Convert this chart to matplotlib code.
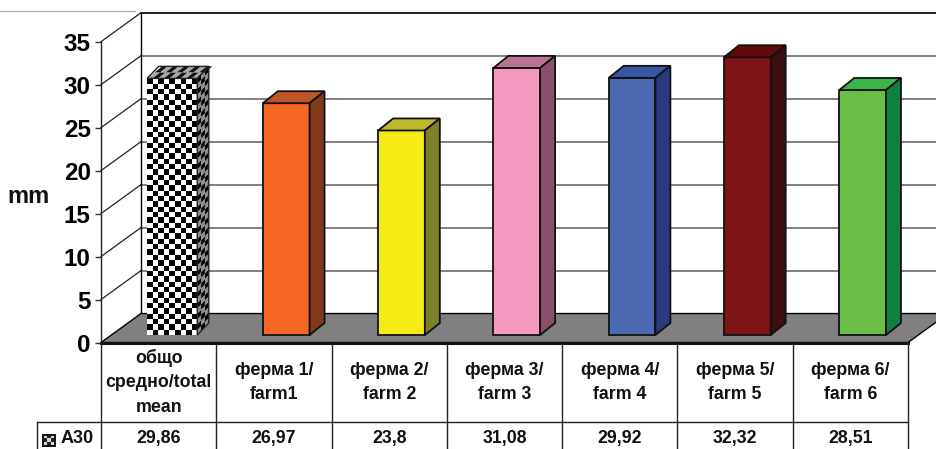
import matplotlib
matplotlib.use("Agg")
import matplotlib.pyplot as plt
from matplotlib.collections import PolyCollection
from matplotlib.patches import Polygon, Rectangle

plt.rcParams["font.family"] = ["Liberation Sans", "DejaVu Sans"]
plt.rcParams["font.weight"] = "bold"

CATEGORIES = [
    "общо\nсредно/total\nmean",
    "ферма 1/\nfarm1",
    "ферма 2/\nfarm 2",
    "ферма 3/\nfarm 3",
    "ферма 4/\nfarm 4",
    "ферма 5/\nfarm 5",
    "ферма 6/\nfarm 6",
]
VALUES = [29.86, 26.97, 23.8, 31.08, 29.92, 32.32, 28.51]
VALUE_LABELS = ["29,86", "26,97", "23,8", "31,08", "29,92", "32,32", "28,51"]
Y_TICKS = [0, 5, 10, 15, 20, 25, 30, 35]
SERIES_NAME = "A30"

# front, top and side shade of each solid bar
FACE_COLORS = [
    None,
    ("#f56722", "#c0542a", "#81391c"),
    ("#f5ec15", "#bdb82e", "#80802b"),
    ("#f49ac1", "#bb7394", "#8b4f6b"),
    ("#4b69b0", "#3a55a4", "#2b3a80"),
    ("#7e1416", "#600a0c", "#3b0f10"),
    ("#6abd45", "#39b54a", "#0f8040"),
]

# depth of the 3d box and of each bar, in x categories and y mm
DEPTH_X, DEPTH_Y = 0.347, 3.37
BAR_DX, BAR_DY = 0.13, 1.4
BAR_LEFT, BAR_WIDTH, BAR_BASE = 0.404, 0.405, 0.87
HEADER_BOTTOM, TABLE_BOTTOM = -9.25, -12.4
X_MAX = 7.3


def checker(ax, origin, u, v, nu, nv, dark, light):
    """Fill the parallelogram origin+u+v with an nu by nv checker pattern"""
    cells, colors = [], []
    for i in range(nu):
        for j in range(nv):
            p = [(i, j), (i + 1, j), (i + 1, j + 1), (i, j + 1)]
            cells.append(
                [
                    (
                        origin[0] + a / nu * u[0] + b / nv * v[0],
                        origin[1] + a / nu * u[1] + b / nv * v[1],
                    )
                    for a, b in p
                ]
            )
            colors.append(dark if (i + j) % 2 else light)
    ax.add_collection(
        PolyCollection(cells, facecolors=colors, edgecolors="none", zorder=4, clip_on=False)
    )


def draw_box(ax):
    # back wall and gridlines
    for y in Y_TICKS:
        color, lw = ("black", 1.2) if y == 35 else ("#808080", 1.4)
        if y > 0:
            ax.plot([DEPTH_X, X_MAX], [y + DEPTH_Y] * 2, color=color, lw=lw, zorder=1, clip_on=False)
            ax.plot([0, DEPTH_X], [y, y + DEPTH_Y], color="#222222", lw=0.9, zorder=1, clip_on=False)
    ax.plot([DEPTH_X, DEPTH_X], [DEPTH_Y, 35 + DEPTH_Y], color="black", lw=1.0, zorder=1, clip_on=False)

    # floor
    floor = [(0, 0), (7, 0), (7 + DEPTH_X, DEPTH_Y), (DEPTH_X, DEPTH_Y)]
    ax.add_patch(Polygon(floor, facecolor="#808080", edgecolor="black", lw=1.0, zorder=2, clip_on=False))
    ax.plot([0, 7], [0, 0], color="#111111", lw=2.2, zorder=3, clip_on=False)


def draw_bar(ax, i, value, colors):
    x0 = i + BAR_LEFT
    y0 = BAR_BASE
    top = y0 + value
    if colors is None:
        # the overall mean gets a checker fill and a wider front
        x0 -= 0.004
        w = BAR_WIDTH + 0.03
        checker(ax, (x0, y0), (w, 0), (0, value), 9, 48, "black", "white")
        checker(ax, (x0 + w, y0), (BAR_DX - 0.03, BAR_DY), (0, value), 3, 48, "black", "#8c8c8c")
        checker(ax, (x0, top), (w, 0), (BAR_DX, BAR_DY), 9, 2, "#111111", "#a8a8a8")
    else:
        w = BAR_WIDTH
    dx = BAR_DX if colors else BAR_DX - 0.03
    front = [(x0, y0), (x0 + w, y0), (x0 + w, top), (x0, top)]
    side = [(x0 + w, y0), (x0 + w + dx, y0 + BAR_DY), (x0 + w + dx, top + BAR_DY), (x0 + w, top)]
    upper = [(x0, top), (x0 + w, top), (x0 + w + dx, top + BAR_DY), (x0 + dx, top + BAR_DY)]
    if colors is None:
        for pts in (side, upper):
            ax.add_patch(Polygon(pts, fill=False, edgecolor="#222222", lw=1.0, zorder=5, clip_on=False))
        return
    for pts, c in zip((front, upper, side), colors):
        ax.add_patch(Polygon(pts, facecolor=c, edgecolor="#111111", lw=1.3, zorder=4, clip_on=False))


def draw_table(ax):
    line = {"color": "#222222", "lw": 1.0, "zorder": 3, "clip_on": False}
    ax.plot([0, 0], [0, TABLE_BOTTOM], **line)
    for i in range(1, 8):
        ax.plot([i, i], [0, TABLE_BOTTOM], **line)
    ax.plot([-0.555, 7], [HEADER_BOTTOM, HEADER_BOTTOM], **line)
    ax.plot([-0.555, -0.555], [HEADER_BOTTOM, TABLE_BOTTOM], **line)
    for i, (name, label) in enumerate(zip(CATEGORIES, VALUE_LABELS)):
        ax.text(i + 0.5, -4.65, name, ha="center", va="center", fontsize=12.8, linespacing=1.55, color="#111111")
        ax.text(i + 0.5, -11.2, label, ha="center", va="center", fontsize=12.8, color="#111111")
    ax.text(-0.355, -11.2, SERIES_NAME, ha="left", va="center", fontsize=13, color="#111111", clip_on=False)

    # legend key in the row header
    key_x, key_y, key_w, key_h = -0.505, -12.0, 0.105, 1.25
    checker(ax, (key_x, key_y), (key_w, 0), (0, key_h), 3, 3, "#222222", "#d8d8d8")
    ax.add_patch(Rectangle((key_x, key_y), key_w, key_h, fill=False, edgecolor="#111111", lw=1.4, zorder=5, clip_on=False))


fig = plt.figure(figsize=(9.36, 4.49), dpi=100)
ax = fig.add_axes([101 / 936, 1 - 342.5 / 449, 807 / 936, 300.8 / 449])
ax.set_xlim(0, 7)
ax.set_ylim(0, 35)
for name in ("top", "right", "bottom"):
    ax.spines[name].set_visible(False)
ax.spines["left"].set_linewidth(1.0)
ax.spines["left"].set_color("#222222")
ax.patch.set_alpha(0)
ax.set_xticks([])
ax.set_yticks(Y_TICKS)
ax.tick_params(axis="y", labelsize=17.5, length=4.3, width=1.0, color="#333333", pad=3)
ax.set_ylabel("mm", rotation=0, fontsize=17, fontweight="bold", va="center", ha="center", color="#111111")
ax.yaxis.set_label_coords(-0.09, 0.487)

draw_box(ax)
for i, (value, colors) in enumerate(zip(VALUES, FACE_COLORS)):
    draw_bar(ax, i, value, colors)
draw_table(ax)

# thin rule along the top of the page
fig.add_artist(plt.Line2D([0, 135 / 936], [1 - 10.5 / 449] * 2, color="#b0b0b0", lw=1.0))

fig.savefig("out.png", dpi=100)
